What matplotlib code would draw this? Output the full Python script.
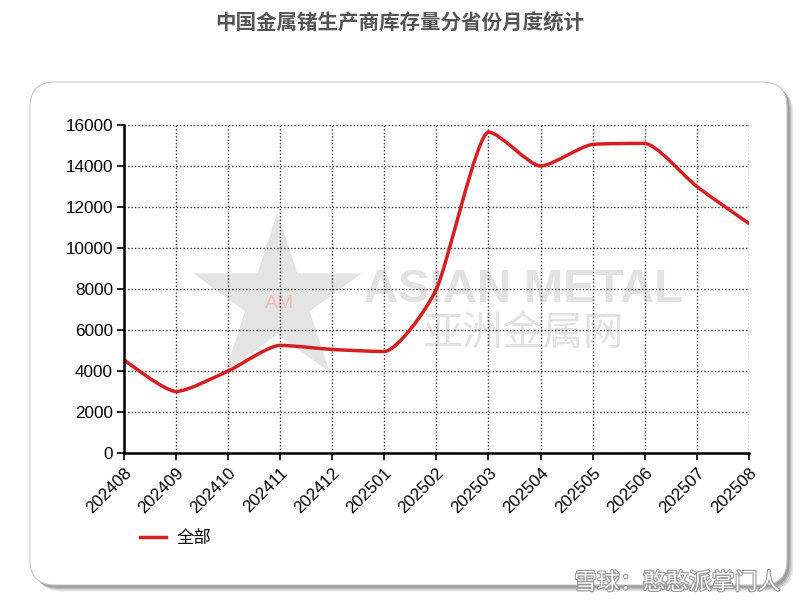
import numpy as np
import matplotlib
matplotlib.use('Agg')
import matplotlib.pyplot as plt
from matplotlib.patches import FancyBboxPatch, PathPatch
from matplotlib.path import Path
import matplotlib.patheffects as pe

plt.rcParams['font.family'] = ['Liberation Sans', 'Noto Sans CJK SC', 'DejaVu Sans']

# 数据
meses = ['202408', '202409', '202410', '202411', '202412', '202501', '202502',
         '202503', '202504', '202505', '202506', '202507', '202508']
estoque = [4550, 3000, 4000, 5250, 5050, 4950, 8000,
           15650, 14000, 15050, 15100, 13000, 11200]
serie_nome = '全部'
titulo = '中国金属锗生产商库存量分省份月度统计'
cor_linha = '#d42020'


def caminho_suave(xs, ys, smoothing=3.5):
    # curva spline (bezier cúbica), pontos de controle próximos
    n = len(xs)
    left = [(xs[i], ys[i]) for i in range(n)]
    right = [(xs[i], ys[i]) for i in range(n)]
    denom = smoothing + 1
    for i in range(1, n - 1):
        lx, ly = xs[i - 1], ys[i - 1]
        px, py = xs[i], ys[i]
        nx, ny = xs[i + 1], ys[i + 1]
        lcx = (smoothing * px + lx) / denom
        lcy = (smoothing * py + ly) / denom
        rcx = (smoothing * px + nx) / denom
        rcy = (smoothing * py + ny) / denom
        corr = 0
        if rcx != lcx:
            corr = (rcy - lcy) * (rcx - px) / (rcx - lcx) + py - rcy
        lcy += corr
        rcy += corr
        if lcy > ly and lcy > py:
            lcy = max(ly, py)
            rcy = 2 * py - lcy
        elif lcy < ly and lcy < py:
            lcy = min(ly, py)
            rcy = 2 * py - lcy
        if rcy > ny and rcy > py:
            rcy = max(ny, py)
            lcy = 2 * py - rcy
        elif rcy < ny and rcy < py:
            rcy = min(ny, py)
            lcy = 2 * py - rcy
        left[i] = (lcx, lcy)
        right[i] = (rcx, rcy)
    verts = [(xs[0], ys[0])]
    codes = [Path.MOVETO]
    for i in range(1, n):
        verts += [right[i - 1], left[i], (xs[i], ys[i])]
        codes += [Path.CURVE4] * 3
    return Path(verts, codes)


fig = plt.figure(figsize=(8, 6.09), dpi=100)

# caixa arredondada com sombra
for k, a in enumerate([0.10, 0.13, 0.18, 0.25]):
    off = 0.065 - k * 0.013
    sombra = FancyBboxPatch((0.30 + off, 0.24 - off), 7.57, 5.03,
                            boxstyle='round,pad=0,rounding_size=0.25',
                            transform=fig.dpi_scale_trans, facecolor='#444444',
                            edgecolor='none', alpha=a, zorder=0)
    fig.patches.append(sombra)
caixa = FancyBboxPatch((0.30, 0.24), 7.57, 5.03,
                       boxstyle='round,pad=0,rounding_size=0.25',
                       transform=fig.dpi_scale_trans, facecolor='white',
                       edgecolor='#c8c8c8', linewidth=0.8, zorder=1)
fig.patches.append(caixa)

fig.text(0.5, 0.962, titulo, ha='center', va='center', fontsize=14.8,
         fontweight='bold', color='#555555', family=['Noto Sans CJK SC'])

# marcas d'água
fig.text(0.346, 0.49, '★', ha='center', va='center', fontsize=158,
         color='#e4e4e4', family=['DejaVu Sans'], zorder=1.5)
fig.text(0.349, 0.502, 'AM', ha='center', va='center', fontsize=14,
         color='#f0bcbc', zorder=1.6)
fig.text(0.655, 0.524, 'ASIAN METAL', ha='center', va='center', fontsize=34,
         fontweight='bold', color='#e2e2e2', zorder=1.5)
fig.text(0.654, 0.453, '亚洲金属网', ha='center', va='center', fontsize=29,
         color='#e2e2e2', family=['Noto Sans CJK SC'], zorder=1.5)

ax = fig.add_axes([0.155, 0.2562, 0.781, 0.5386])
ax.set_facecolor('none')
ax.set_zorder(2)

x = np.arange(len(meses))
ax.add_patch(PathPatch(caminho_suave(list(x), estoque), facecolor='none',
                       edgecolor=cor_linha, linewidth=2.5, zorder=3,
                       capstyle='round', joinstyle='round'))
ax.plot([], [], color=cor_linha, linewidth=2.5, label=serie_nome)

ax.set_xlim(0, len(meses) - 1)
ax.set_ylim(0, 16000)
ax.set_yticks(np.arange(0, 16001, 2000))
ax.set_xticks(x)
ax.set_xticklabels(meses, rotation=45, ha='right', rotation_mode='anchor')

ax.grid(True, color='#333333', linestyle=(0, (1, 1.5)), linewidth=1.0)
ax.set_axisbelow(True)
for s in ['top', 'right']:
    ax.spines[s].set_visible(False)
for s in ['left', 'bottom']:
    ax.spines[s].set_linewidth(1.8)
    ax.spines[s].set_zorder(4)
ax.tick_params(axis='both', direction='out', length=5, width=1.2,
               labelsize=12.3, colors='black', pad=3)
ax.tick_params(axis='x', pad=4)

leg = ax.legend(loc='upper left', bbox_to_anchor=(0.0, -0.185), frameon=False,
                handlelength=1.5, handletextpad=0.6,
                prop={'family': ['Noto Sans CJK SC'], 'size': 12.5})

fig.text(0.975, 0.043, '雪球：憨憨派掌门人', ha='right', va='center', fontsize=16.5,
         color='white', family=['Noto Sans CJK SC'], zorder=5,
         path_effects=[pe.withStroke(linewidth=1.6, foreground='#9a9a9a')])

fig.savefig('out.png', dpi=100)
